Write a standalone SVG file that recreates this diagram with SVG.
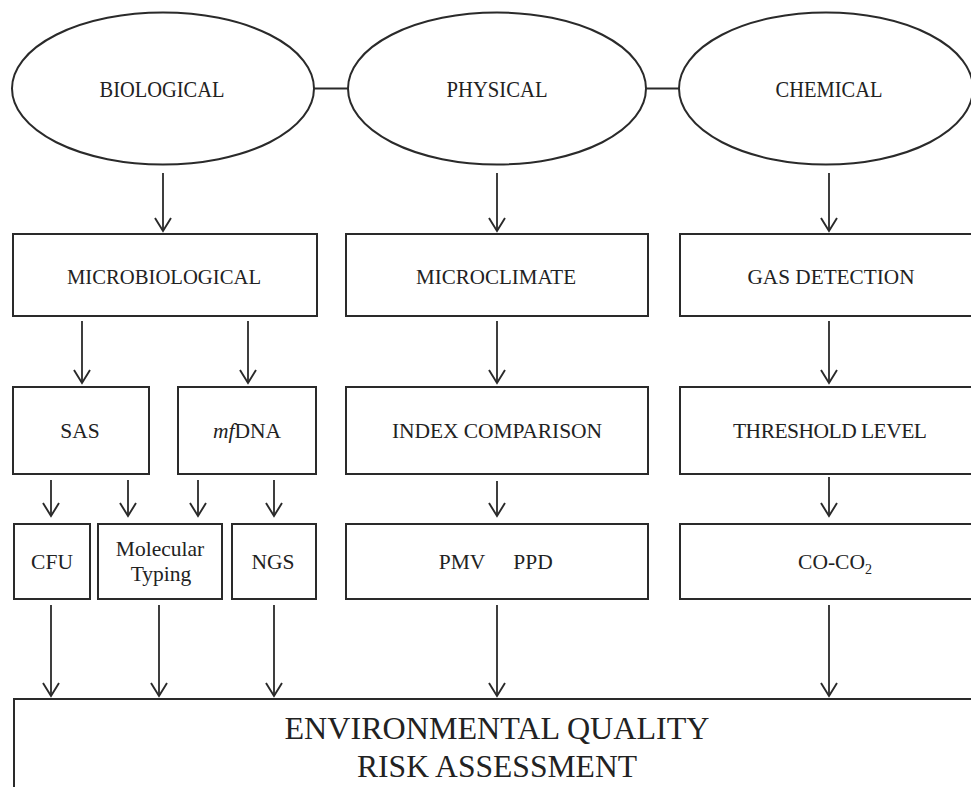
<svg xmlns="http://www.w3.org/2000/svg" width="971" height="787" viewBox="0 0 971 787">
<style>
.shape{fill:#fff;stroke:#2a2a2a;stroke-width:2}
.t{font-family:"Liberation Serif","Times New Roman",serif;font-size:21.5px;fill:#222;text-anchor:middle}
.e{font-size:23px}
.big{font-size:32px}
.conn line{stroke:#2a2a2a;stroke-width:1.8;fill:none}
.conn line.arr{marker-end:url(#ah)}
</style>
<defs>
<marker id="ah" markerUnits="userSpaceOnUse" markerWidth="24" markerHeight="24" viewBox="-18 -12 24 24" refX="0" refY="0" orient="auto" overflow="visible">
<path d="M-13,-8 L0,0 L-13,8" fill="none" stroke="#2a2a2a" stroke-width="1.9"/>
</marker>
</defs>
<rect width="971" height="787" fill="#fff"/>

<g class="conn">
<line x1="314" y1="88.5" x2="348" y2="88.5"/>
<line x1="646" y1="88.5" x2="679" y2="88.5"/>
<line class="arr" x1="163" y1="173" x2="163" y2="231"/>
<line class="arr" x1="497" y1="173" x2="497" y2="231"/>
<line class="arr" x1="829" y1="173" x2="829" y2="231"/>
<line class="arr" x1="82" y1="321" x2="82" y2="383"/>
<line class="arr" x1="248" y1="321" x2="248" y2="383"/>
<line class="arr" x1="497" y1="321" x2="497" y2="383"/>
<line class="arr" x1="829" y1="321" x2="829" y2="383"/>
<line class="arr" x1="51" y1="480" x2="51" y2="516"/>
<line class="arr" x1="128" y1="480" x2="128" y2="516"/>
<line class="arr" x1="198" y1="480" x2="198" y2="516"/>
<line class="arr" x1="274" y1="480" x2="274" y2="516"/>
<line class="arr" x1="497" y1="481" x2="497" y2="516"/>
<line class="arr" x1="829" y1="477" x2="829" y2="516"/>
<line class="arr" x1="51" y1="605" x2="51" y2="696"/>
<line class="arr" x1="159" y1="605" x2="159" y2="696"/>
<line class="arr" x1="274" y1="605" x2="274" y2="696"/>
<line class="arr" x1="497" y1="605" x2="497" y2="696"/>
<line class="arr" x1="829" y1="605" x2="829" y2="696"/>
</g>

<g id="biological">
<ellipse class="shape" cx="163" cy="88.5" rx="151" ry="76"/>
<text class="t e" x="162" y="97" textLength="125" lengthAdjust="spacingAndGlyphs">BIOLOGICAL</text>
</g>
<g id="physical">
<ellipse class="shape" cx="497" cy="88.5" rx="149" ry="76"/>
<text class="t e" x="497" y="97" textLength="101" lengthAdjust="spacingAndGlyphs">PHYSICAL</text>
</g>
<g id="chemical">
<ellipse class="shape" cx="826" cy="88.5" rx="147" ry="76"/>
<text class="t e" x="829" y="97" textLength="107" lengthAdjust="spacingAndGlyphs">CHEMICAL</text>
</g>

<g id="microbiological">
<rect class="shape" x="13" y="234" width="304" height="82"/>
<text class="t" x="164" y="284" textLength="194" lengthAdjust="spacingAndGlyphs">MICROBIOLOGICAL</text>
</g>
<g id="microclimate">
<rect class="shape" x="346" y="234" width="302" height="82"/>
<text class="t" x="496" y="284" textLength="160" lengthAdjust="spacingAndGlyphs">MICROCLIMATE</text>
</g>
<g id="gas-detection">
<rect class="shape" x="680" y="234" width="310" height="82"/>
<text class="t" x="831" y="284" textLength="167" lengthAdjust="spacingAndGlyphs">GAS DETECTION</text>
</g>

<g id="sas">
<rect class="shape" x="13" y="387" width="136" height="87"/>
<text class="t" x="80" y="438">SAS</text>
</g>
<g id="mfdna">
<rect class="shape" x="178" y="387" width="138" height="87"/>
<text class="t" x="247" y="438"><tspan font-style="italic">mf</tspan>DNA</text>
</g>
<g id="index-comparison">
<rect class="shape" x="346" y="387" width="302" height="87"/>
<text class="t" x="497" y="438" textLength="210" lengthAdjust="spacing">INDEX COMPARISON</text>
</g>
<g id="threshold-level">
<rect class="shape" x="680" y="387" width="310" height="87"/>
<text class="t" x="830" y="438" textLength="194" lengthAdjust="spacing">THRESHOLD LEVEL</text>
</g>

<g id="cfu">
<rect class="shape" x="14" y="524" width="76" height="75"/>
<text class="t" x="52" y="569">CFU</text>
</g>
<g id="molecular-typing">
<rect class="shape" x="98" y="524" width="124" height="75"/>
<text class="t" x="160" y="556">Molecular</text>
<text class="t" x="161" y="581">Typing</text>
</g>
<g id="ngs">
<rect class="shape" x="232" y="524" width="84" height="75"/>
<text class="t" x="273" y="569">NGS</text>
</g>
<g id="pmv-ppd">
<rect class="shape" x="346" y="524" width="302" height="75"/>
<text class="t" y="569"><tspan x="462">PMV</tspan><tspan x="533">PPD</tspan></text>
</g>
<g id="co-co2">
<rect class="shape" x="680" y="524" width="310" height="75"/>
<text class="t" x="835" y="569">CO-CO<tspan font-size="14" dy="5">2</tspan></text>
</g>

<g id="environmental-quality">
<rect class="shape" x="14" y="699" width="980" height="110"/>
<text class="t big" x="497" y="739" textLength="425" lengthAdjust="spacingAndGlyphs">ENVIRONMENTAL QUALITY</text>
<text class="t big" x="497" y="777" textLength="280" lengthAdjust="spacingAndGlyphs">RISK ASSESSMENT</text>
</g>
</svg>
